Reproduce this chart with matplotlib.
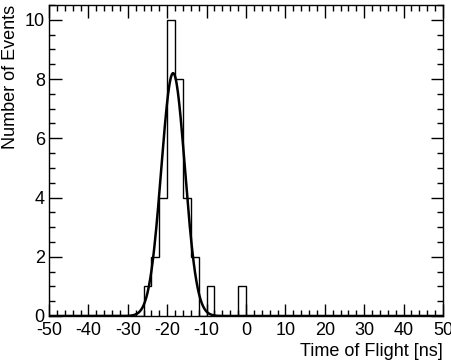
import numpy as np
import matplotlib
matplotlib.use('Agg')
from matplotlib import pyplot as plt
from matplotlib.ticker import MultipleLocator

# histogram of time of flight, 2 ns bins
bin_centers = [-25, -23, -21, -19, -17, -15, -13, -9, -1]
counts = [1, 2, 4, 10, 8, 4, 2, 1, 1]
bin_edges = np.arange(-50, 52, 2)

# gaussian fit parameters
fit_const = 8.2
fit_mean = -18.5
fit_sigma = 3.0

plt.rcParams['font.family'] = ['Liberation Sans', 'DejaVu Sans']
plt.rcParams['axes.unicode_minus'] = False

fig = plt.figure(figsize=(4.52, 3.64), dpi=100)
ax = fig.add_axes([49/452, 48/364, 394/452, 311/364])

ax.hist(bin_centers, bins=bin_edges, weights=counts, histtype='step',
        color='black', linewidth=1.0)

xf = np.linspace(-50, 50, 600)
ax.plot(xf, fit_const*np.exp(-0.5*((xf-fit_mean)/fit_sigma)**2),
        color='black', linewidth=1.8)

ax.set_xlim(-50, 50)
ax.set_ylim(0, 10.5)
ax.xaxis.set_major_locator(MultipleLocator(10))
ax.xaxis.set_minor_locator(MultipleLocator(2))
ax.yaxis.set_major_locator(MultipleLocator(2))
ax.yaxis.set_minor_locator(MultipleLocator(0.5))
ax.tick_params(which='both', direction='in', top=True, right=True,
               labelsize=13, width=1.0)
ax.tick_params(which='major', length=9)
ax.tick_params(which='minor', length=4.5)
ax.tick_params(axis='x', pad=4)
ax.tick_params(axis='y', pad=3)
for s in ax.spines.values():
    s.set_linewidth(1.0)

ax.set_xlabel('Time of Flight [ns]', loc='right', fontsize=13, labelpad=3)
ax.set_ylabel('Number of Events', loc='top', fontsize=13, labelpad=4)

fig.savefig('out.png', dpi=100)
